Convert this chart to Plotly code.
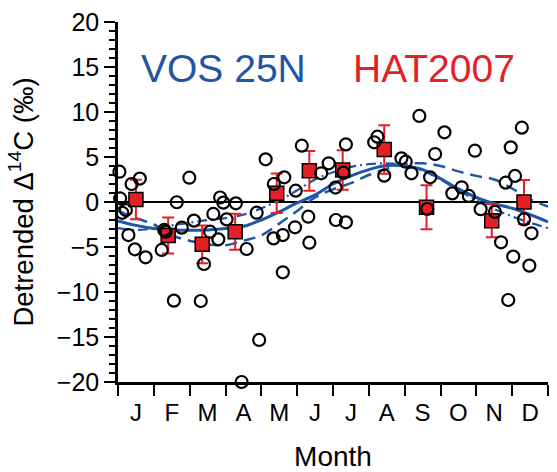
import plotly.graph_objects as go

months = ["J", "F", "M", "A", "M", "J", "J", "A", "S", "O", "N", "D"]

# VOS 25N individual samples (month fraction, detrended D14C)
vos_x = [0.04, 0.38, 0.61, 0.06, 0.12, 0.22, 0.29, 0.47, 0.77, 1.22, 1.29, 1.33, 1.56, 1.64,
         1.78, 1.99, 2.12, 2.31, 2.40, 2.57, 2.66, 2.80, 2.85, 2.94, 3.03, 3.29, 3.45, 3.59,
         3.87, 3.94, 4.12, 4.34, 4.35, 4.60, 4.60, 4.64, 4.94, 4.96, 5.13, 5.31, 5.34, 5.67,
         5.88, 6.07, 6.08, 6.29, 6.36, 6.36, 7.15, 7.24, 7.43, 7.91, 8.03, 8.19, 8.41, 8.63,
         8.71, 8.85, 9.11, 9.33, 9.59, 9.79, 9.96, 10.12, 10.52, 10.69, 10.82, 10.89, 10.96,
         11.03, 11.08, 11.27, 11.33, 11.48, 11.54]
vos_y = [3.37, 2.0, 2.6, 0.4, -1.2, -0.9, -3.67, -5.26, -6.15, -5.33, -3.1, -3.3, -10.96, -0.03,
         -2.85, 2.7, -2.07, -11.0, -6.89, -3.3, -1.33, -4.15, 0.5, -0.07, -1.93, -0.15, -20.0, -5.22,
         -1.19, -15.33, 4.74, -4.04, 2.0, -3.67, -7.81, 2.74, -2.81, 1.26, 6.26, -1.63, -4.52, 3.19,
         4.3, 1.6, -2.0, 3.26, 6.4, -2.26, 6.63, 7.26, 2.93, 4.85, 4.48, 3.19, 9.56, -0.78,
         2.74, 5.33, 7.74, 0.96, 1.63, 0.67, 5.7, -0.8, -1.1, -4.48, 2.15, -10.89, 6.07,
         -6.07, 2.9, 8.26, -1.93, -7.07, -3.48]

# HAT2007 monthly means with uncertainty
hat_x = [0.5, 1.40, 2.35, 3.27, 4.43, 5.34, 6.27, 7.43, 8.61, 10.43, 11.33]
hat_y = [0.28, -3.72, -4.7, -3.3, 0.97, 3.46, 3.55, 5.83, -0.58, -2.07, 0.0]
hat_err = [2.2, 2.0, 2.1, 2.0, 2.2, 2.2, 2.2, 2.7, 2.45, 1.85, 2.44]

# Fitted seasonal curves (sampled every half month)
curve_x = [i * 0.5 for i in range(25)]
fit_solid = [-2.1, -2.6, -2.95, -3.1, -3.15, -3.1, -2.95, -2.7, -2.0, -1.1, -0.1, 0.8, 2.0,
             2.9, 3.6, 4.05, 4.0, 3.6, 2.6, 1.45, 0.5, -0.2, -0.7, -1.4, -2.2]
fit_dashdot = [-2.9, -3.1, -2.95, -2.6, -2.3, -2.0, -1.8, -1.4, -0.7, 0.2, 1.3, 2.5, 3.3,
               3.9, 4.2, 4.3, 4.1, 3.5, 2.5, 1.3, 0.2, -0.8, -1.6, -2.3, -2.9]
fit_dash = [-1.0, -1.8, -2.5, -3.7, -4.3, -4.7, -4.8, -4.3, -3.7, -2.4, -1.0, 0.5, 1.4,
            2.1, 3.0, 3.7, 4.2, 4.3, 4.0, 3.4, 2.9, 2.5, 1.5, 0.3, -0.5]

BLUE = "#1f55a5"
RED = "#e41f26"
FONT = "Liberation Sans, Arial, Helvetica, sans-serif"

fig = go.Figure()
fig.add_trace(go.Scatter(x=curve_x, y=fit_dash, mode="lines", line=dict(color=BLUE, width=2.5, dash="12px,7px", shape="spline"), showlegend=False))
fig.add_trace(go.Scatter(x=curve_x, y=fit_dashdot, mode="lines", line=dict(color=BLUE, width=2.2, dash="10px,4px,2px,4px", shape="spline"), showlegend=False))
fig.add_trace(go.Scatter(x=curve_x, y=fit_solid, mode="lines", line=dict(color=BLUE, width=3, shape="spline"), showlegend=False))
fig.add_trace(go.Scatter(x=hat_x, y=hat_y, mode="markers",
                         marker=dict(symbol="square", size=14, color=RED, line=dict(color="black", width=1.5)),
                         error_y=dict(type="data", array=hat_err, color=RED, thickness=2, width=6),
                         showlegend=False))
fig.add_trace(go.Scatter(x=vos_x, y=vos_y, mode="markers", cliponaxis=False,
                         marker=dict(symbol="circle-open", size=12, color="black", line=dict(color="black", width=2.2)),
                         showlegend=False))

fig.update_layout(
    width=557, height=472,
    margin=dict(l=118, r=9, t=22, b=90),
    paper_bgcolor="white", plot_bgcolor="white",
    font=dict(family=FONT, color="black", size=22),
    xaxis=dict(range=[0, 12], tickvals=[i + 0.5 for i in range(12)], ticktext=months,
               ticks="outside", ticklen=7, tickcolor="rgba(0,0,0,0)", automargin=False,
               minor=dict(tickvals=list(range(13)), ticks="outside", ticklen=11, tickwidth=1.5, tickcolor="black"),
               showline=True, linewidth=2.5, linecolor="black", showgrid=False, zeroline=False,
               tickfont=dict(size=24), title=dict(text="Month", font=dict(size=28), standoff=24)),
    xaxis2=dict(range=[0, 12], overlaying="x", side="top", anchor="y", tickvals=list(range(13)),
                ticks="outside", ticklen=12, tickwidth=1.5, tickcolor="black", showticklabels=False,
                automargin=False,
                showline=True, linewidth=2.5, linecolor="black", showgrid=False, zeroline=False),
    yaxis=dict(range=[-20, 20], tickvals=list(range(-20, 21, 5)), ticks="outside", ticklen=11, tickwidth=1.5,
               tickcolor="black", automargin=False,
               minor=dict(dtick=1, tick0=0, ticks="outside", ticklen=6, tickwidth=1.5, tickcolor="black"),
               showline=True, linewidth=2.5, linecolor="black", showgrid=False,
               zeroline=True, zerolinecolor="black", zerolinewidth=1.5,
               tickfont=dict(size=25),
               title=dict(text="Detrended Δ<sup>14</sup>C (‰)", font=dict(size=27.5), standoff=16)),
    yaxis2=dict(range=[-20, 20], overlaying="y", side="right", anchor="x", tickvals=list(range(-20, 21)),
                ticks="outside", ticklen=6, tickwidth=1.5, tickcolor="black", showticklabels=False,
                automargin=False,
                showline=True, linewidth=2.5, linecolor="black", showgrid=False, zeroline=False),
    annotations=[
        dict(text="VOS 25N", xref="paper", yref="paper", x=0.2465, y=0.872, showarrow=False,
             font=dict(size=39, color=BLUE, family=FONT), xanchor="center", yanchor="middle"),
        dict(text="HAT2007", xref="paper", yref="paper", x=0.735, y=0.872, showarrow=False,
             font=dict(size=39, color=RED, family=FONT), xanchor="center", yanchor="middle"),
    ],
)

fig.write_html("out.html")
